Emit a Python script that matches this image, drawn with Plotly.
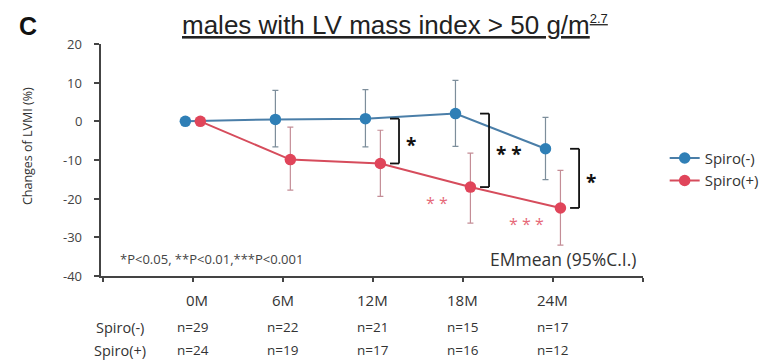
import plotly.graph_objects as go

# Time points and group sizes
months = ["0M", "6M", "12M", "18M", "24M"]
n_minus = [29, 22, 21, 15, 17]
n_plus = [24, 19, 17, 16, 12]

# Y axis ticks
y_ticks = [-40, -30, -20, -10, 0, 10, 20]

# Estimated marginal means of LVMI change (%) with 95% CI
minus_mean = [0, 0.5, 0.7, 2.0, -7.1]
minus_upper = [0, 8.0, 8.2, 10.6, 1.0]
minus_lower = [0, -6.6, -6.6, -6.5, -15.1]

plus_mean = [0, -9.9, -10.9, -17.0, -22.4]
plus_upper = [0, -1.5, -2.3, -8.2, -12.7]
plus_lower = [0, -17.8, -19.4, -26.3, -32.0]

# Significance marks: between groups, and Spiro(+) vs baseline
between_marks = [(2, "*"), (3, "* *"), (4, "*")]
within_plus_marks = [(3, "* *"), (4, "* * *")]

BLUE = "#2f7fb6"
BLUE_LINE = "#4a7ea8"
RED = "#e0455a"
RED_LINE = "#d64c5c"
FONT = "Open Sans"
TXT = "#333333"
AXIS = "#444444"

idx = list(range(len(months)))
dx = 0.083

fig = go.Figure()

fig.add_trace(go.Scatter(
    x=[i - dx for i in idx], y=minus_mean, name="Spiro(-)",
    mode="lines+markers",
    line=dict(color=BLUE_LINE, width=2),
    marker=dict(color=BLUE, size=11.5),
    error_y=dict(type="data", symmetric=False,
                 array=[u - m for u, m in zip(minus_upper, minus_mean)],
                 arrayminus=[m - l for m, l in zip(minus_mean, minus_lower)],
                 color="#7d8e9b", thickness=1.2, width=3),
))
fig.add_trace(go.Scatter(
    x=[i + dx for i in idx], y=plus_mean, name="Spiro(+)",
    mode="lines+markers",
    line=dict(color=RED_LINE, width=2),
    marker=dict(color=RED, size=11.5),
    error_y=dict(type="data", symmetric=False,
                 array=[u - m for u, m in zip(plus_upper, plus_mean)],
                 arrayminus=[m - l for m, l in zip(plus_mean, plus_lower)],
                 color="#c48d96", thickness=1.2, width=3),
))

shapes = []
annotations = []

# Brackets between the two groups
for i, lab in between_marks:
    top, bot = minus_mean[i], plus_mean[i]
    xb = i + 0.29
    xs = i + 0.19
    line = dict(color="#111111", width=1.8)
    shapes.append(dict(type="line", x0=xb, x1=xb, y0=top, y1=bot, xref="x", yref="y", line=line))
    shapes.append(dict(type="line", x0=xs, x1=xb, y0=top, y1=top, xref="x", yref="y", line=line))
    shapes.append(dict(type="line", x0=xs, x1=xb, y0=bot, y1=bot, xref="x", yref="y", line=line))
    annotations.append(dict(x=i + 0.35, y=(top + bot) / 2, xref="x", yref="y", yshift=-4,
                            text=f"<b>{lab}</b>", showarrow=False, xanchor="left", yanchor="middle",
                            font=dict(family=FONT, size=19, color="#111111")))

# Spiro(+) vs baseline
for i, lab in within_plus_marks:
    annotations.append(dict(x=i - 0.29, y=plus_mean[i] - 3.9, xref="x", yref="y", yshift=-1,
                            text=lab, showarrow=False, xanchor="center", yanchor="middle",
                            font=dict(family=FONT, size=16, color="#e66878")))

# Y tick labels
for v in y_ticks:
    annotations.append(dict(x=-0.031, y=v, xref="paper", yref="y", text=str(v),
                            showarrow=False, xanchor="right", yanchor="middle",
                            font=dict(family=FONT, size=13, color=AXIS)))

# Y axis title
annotations.append(dict(x=-0.1365, y=0.56, xref="paper", yref="paper",
                        text="Changes of LVMI (%)", textangle=-90, showarrow=False,
                        xanchor="center", yanchor="middle",
                        font=dict(family=FONT, size=12.5, color=TXT)))

# Month labels and group sizes under the axis
for i, m in enumerate(months):
    annotations.append(dict(x=i + (0.05 if i == 0 else 0), y=0, xref="x", yref="paper",
                            yshift=-24, text=m, showarrow=False, yanchor="middle",
                            font=dict(family=FONT, size=15, color=TXT)))
    annotations.append(dict(x=i, y=0, xref="x", yref="paper", yshift=-51, yanchor="middle",
                            text=f"n={n_minus[i]}", showarrow=False,
                            font=dict(family=FONT, size=13.5, color=TXT)))
    annotations.append(dict(x=i, y=0, xref="x", yref="paper", yshift=-74, yanchor="middle",
                            text=f"n={n_plus[i]}", showarrow=False,
                            font=dict(family=FONT, size=13.5, color=TXT)))
for row, ys in (("Spiro(-)", -51), ("Spiro(+)", -74)):
    annotations.append(dict(x=-0.81, y=0, xref="x", yref="paper", yshift=ys, yanchor="middle",
                            text=row, showarrow=False,
                            font=dict(family=FONT, size=14.5, color=TXT)))

# Footnote and estimation note
annotations.append(dict(x=-0.83, y=-35.5, xref="x", yref="y", text="*P<0.05, **P<0.01,***P<0.001",
                        showarrow=False, xanchor="left", yanchor="middle",
                        font=dict(family=FONT, size=13, color=AXIS)))
annotations.append(dict(x=4.94, y=-35.5, xref="x", yref="y", text="EMmean (95%C.I.)",
                        showarrow=False, xanchor="right", yanchor="middle",
                        font=dict(family=FONT, size=17.5, color=TXT)))

# Panel letter and title
annotations.append(dict(x=-0.135, y=1.078, xref="paper", yref="paper", text="<b>C</b>",
                        showarrow=False, xanchor="center", yanchor="middle",
                        font=dict(family="Liberation Sans", size=25, color="#111111")))
annotations.append(dict(x=0.542, y=1.007, xref="paper", yref="paper",
                        text="<u>males with LV mass index &gt; 50 g/m<sup><span style='font-size:13px'>2.7</span></sup></u>",
                        showarrow=False, xanchor="center", yanchor="bottom",
                        font=dict(family="Liberation Sans", size=26, color="#222222")))

fig.update_layout(
    width=778, height=361,
    margin=dict(l=101, r=135, t=44, b=85),
    paper_bgcolor="white", plot_bgcolor="white",
    showlegend=True,
    legend=dict(x=1.04, y=0.46, xanchor="left", yanchor="middle",
                font=dict(family=FONT, size=15, color=TXT),
                itemwidth=30, tracegroupgap=0, bgcolor="rgba(0,0,0,0)"),
    shapes=shapes,
    annotations=annotations,
)
fig.update_xaxes(range=[-1.02, 5.0], tickvals=[-1, 0, 1, 2, 3, 4, 5],
                 showticklabels=False, ticks="outside", ticklen=4, tickwidth=1.5,
                 tickcolor=AXIS, showline=True, linecolor=AXIS, linewidth=2,
                 showgrid=False, zeroline=False)
fig.update_yaxes(range=[-40, 20], tickvals=y_ticks, showticklabels=False,
                 ticks="outside", ticklen=5, tickwidth=1.5, tickcolor=AXIS,
                 showline=True, linecolor=AXIS, linewidth=2,
                 showgrid=False, zeroline=False)

fig.write_html("out.html")
